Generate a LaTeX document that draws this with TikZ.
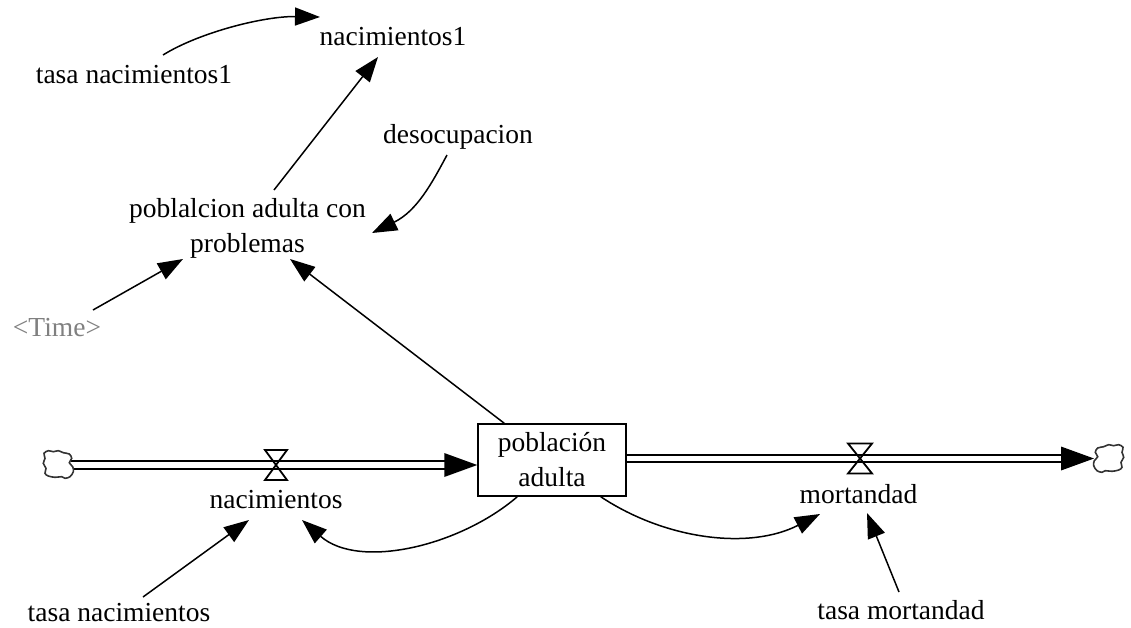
\documentclass[tikz,border=0pt]{standalone}
\usepackage{fontspec}
\setmainfont{Liberation Serif}
\usetikzlibrary{arrows.meta,calc}
\begin{document}
\begin{tikzpicture}[x=1pt,y=-1pt,
  lbl/.style={inner sep=0pt, font=\fontsize{27.5}{35}\selectfont, anchor=base},
  info/.style={line width=1.5pt, -{Triangle[length=25pt,width=18pt]}},
  pipe/.style={line width=1.8pt, double distance=5.7pt},
  valvestyle/.style={line width=1.8pt, line join=miter},
  cloudstyle/.style={line width=1.6pt, draw=black!80}
]
\useasboundingbox (0,0) rectangle (1131,627);

% labels
\node[lbl] (n1) at (393,45) {nacimientos1};
\node[lbl] (tn1) at (134,83) {tasa nacimientos1};
\node[lbl] (des) at (458,143) {desocupacion};
\node[lbl, anchor=center, align=center] (pac) at (247.5,228) {poblalcion adulta con\\problemas};
\node[lbl, text=black!50] (time) at (57,336) {<Time>};
\node[lbl] (nac) at (276,508) {nacimientos};
\node[lbl] (mort) at (858.5,503) {mortandad};
\node[lbl] (tnac) at (119,621) {tasa nacimientos};
\node[lbl] (tmort) at (901,619) {tasa mortandad};

% stock
\node[draw, line width=1.5pt, minimum width=148pt, minimum height=72pt, inner sep=0pt,
      align=center, font=\fontsize{27.5}{35}\selectfont] (box) at (552,460) {población\\adulta};

% clouds and valves
\coordinate (cL) at (58,464.5);
\coordinate (cR) at (1109,458.5);
\coordinate (vL) at (276,465);
\coordinate (vR) at (860,458.5);

% pipes
\draw[pipe] ($(cL)+(13,0.5)$) -- ($(box.west |- vL)+(-30,0)$);
\fill (box.west |- vL) -- ++(-33,-12) -- ++(0,24) -- cycle;
\draw[pipe] (box.east |- vR) -- ($(cR)+(-45,0)$);
\fill ($(cR)+(-15,0)$) -- ++(-33,-12) -- ++(0,24) -- cycle;

\begin{scope}[shift={(cL)}]
\draw[cloudstyle, fill=white] plot[smooth cycle, tension=0.55] coordinates {
 (-14,-11.2) (-9.7,-13.8) (-4.7,-12.8) (0.3,-13.8) (5.3,-11.8) (11.3,-10.5)
 (13.7,-6.2) (11.3,-1.8) (14.7,2.2) (15.3,7.2) (12,12.2) (7,13.8) (3.7,12.2)
 (-3,12.8) (-9.7,11.5) (-13,8.8) (-12,3.8) (-14.7,-1.2) (-13,-6.2)};
\end{scope}
\begin{scope}[shift={(cR)}, xscale=-1]
\draw[cloudstyle, fill=white] plot[smooth cycle, tension=0.55] coordinates {
 (-14,-11.2) (-9.7,-13.8) (-4.7,-12.8) (0.3,-13.8) (5.3,-11.8) (11.3,-10.5)
 (13.7,-6.2) (11.3,-1.8) (14.7,2.2) (15.3,7.2) (12,12.2) (7,13.8) (3.7,12.2)
 (-3,12.8) (-9.7,11.5) (-13,8.8) (-12,3.8) (-14.7,-1.2) (-13,-6.2)};
\end{scope}

\draw[valvestyle] ($(vL)+(-11,-15)$) -- ($(vL)+(11,-15)$) -- ($(vL)+(-11,15)$) -- ($(vL)+(11,15)$) -- cycle;
\draw[valvestyle] ($(vR)+(-12,-15)$) -- ($(vR)+(12,-15)$) -- ($(vR)+(-12,15)$) -- ($(vR)+(12,15)$) -- cycle;

% information links
\draw[info] ($(tn1.base)+(29,-28)$) .. controls (200,32) and (265,16) .. ($(n1.base)+(-73,-28)$);
\draw[info] ($(pac.center)+(26.5,-38)$) -- ($(n1.base)+(-15,12)$);
\draw[info] ($(des.base)+(-11,12)$) .. controls (432,183) and (417,211) .. ($(pac.center)+(124.5,5)$);
\draw[info] ($(time.base)+(36,-26)$) -- ($(pac.center)+(-64.5,31)$);
\draw[info] ($(box.north west)+(27,0)$) -- ($(pac.center)+(42.5,31)$);
\draw[info] ($(box.south west)+(40,0)$) .. controls (460,546) and (359,570) .. ($(nac.base)+(26,12)$);
\draw[info] ($(box.south east)+(-26,0)$) .. controls (666,540) and (750,550) .. ($(mort.base)+(-38.5,11)$);
\draw[info] ($(tnac.base)+(24,-24)$) -- ($(nac.base)+(-27,12)$);
\draw[info] ($(tmort.base)+(-2,-27)$) -- ($(mort.base)+(8.5,10)$);
\end{tikzpicture}
\end{document}
